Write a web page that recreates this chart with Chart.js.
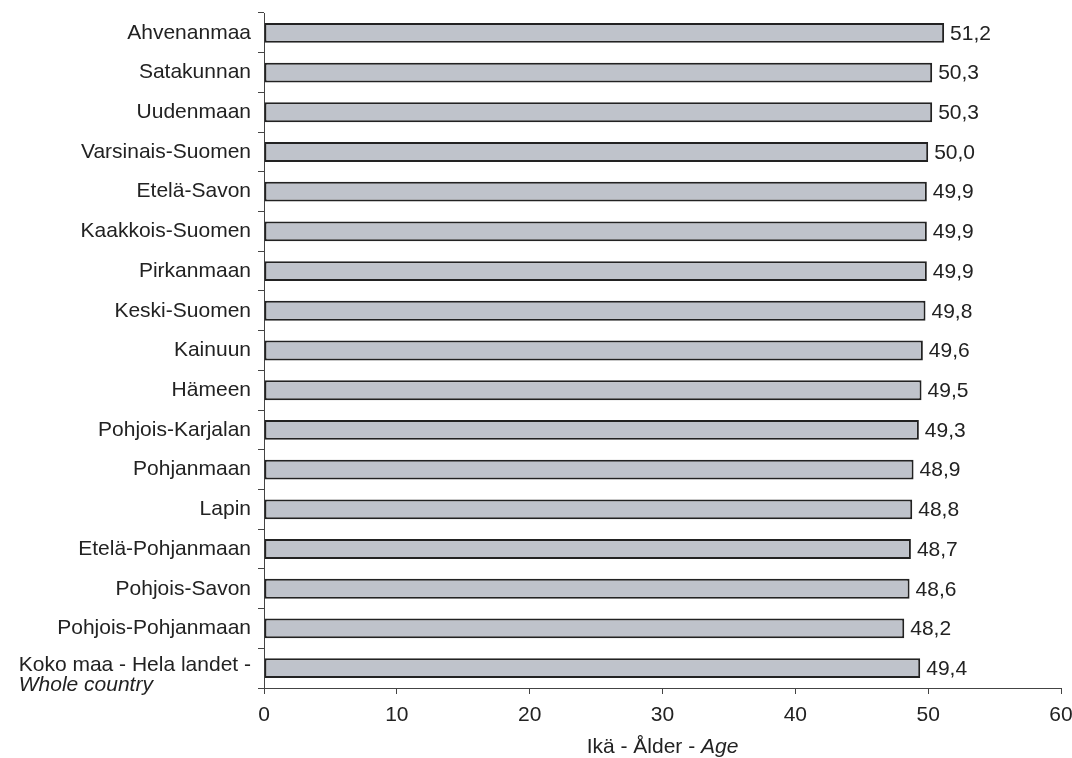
<!DOCTYPE html>
<html>
<head>
<meta charset="utf-8">
<script src="https://cdn.jsdelivr.net/npm/chart.js@4"></script>
<style>
html,body{margin:0;padding:0;background:#fff;}
#wrap{width:1072px;height:758px;}
</style>
</head>
<body>
<div id="wrap"><canvas id="c" width="1072" height="758"></canvas></div>
<script>
const categories = ["Ahvenanmaa","Satakunnan","Uudenmaan","Varsinais-Suomen","Etelä-Savon","Kaakkois-Suomen","Pirkanmaan","Keski-Suomen","Kainuun","Hämeen","Pohjois-Karjalan","Pohjanmaan","Lapin","Etelä-Pohjanmaan","Pohjois-Savon","Pohjois-Pohjanmaan","Koko maa - Hela landet -"];
const lastLabelLine2 = "Whole country";
const values = [51.2,50.3,50.3,50.0,49.9,49.9,49.9,49.8,49.6,49.5,49.3,48.9,48.8,48.7,48.6,48.2,49.4];
const xTicks = [0,10,20,30,40,50,60];
const axisTitleParts = [{text:"Ikä - Ålder - ", italic:false},{text:"Age", italic:true}];

const FONT = "'Liberation Sans', Arial, sans-serif";
const FS = 21;
const TXT = "#222";

const labelPlugin = {
  id: 'customText',
  afterDraw(chart) {
    const ctx = chart.ctx;
    const y = chart.scales.y;
    const meta = chart.getDatasetMeta(0);
    ctx.save();
    ctx.fillStyle = TXT;
    ctx.textBaseline = 'middle';
    categories.forEach((c, i) => {
      const py = y.getPixelForValue(i);
      const last = i === categories.length - 1;
      ctx.font = FS + "px " + FONT;
      ctx.textAlign = 'right';
      ctx.fillText(c, 251, py + (last ? -3 : 0));
      if (last) {
        const w = ctx.measureText(c).width;
        ctx.font = "italic " + FS + "px " + FONT;
        ctx.textAlign = 'left';
        ctx.fillText(lastLabelLine2, 251 - w, py + 17);
      }
    });
    ctx.font = FS + "px " + FONT;
    ctx.textAlign = 'left';
    meta.data.forEach((bar, i) => {
      ctx.fillText(values[i].toFixed(1).replace('.', ','), bar.x + 6, bar.y + 1);
    });
    let total = 0;
    axisTitleParts.forEach(p => { ctx.font = (p.italic ? "italic " : "") + FS + "px " + FONT; p.w = ctx.measureText(p.text).width; total += p.w; });
    let sx = (chart.chartArea.left + chart.chartArea.right) / 2 - total / 2;
    axisTitleParts.forEach(p => {
      ctx.font = (p.italic ? "italic " : "") + FS + "px " + FONT;
      ctx.fillText(p.text, sx, 747);
      sx += p.w;
    });
    ctx.restore();
  }
};

new Chart(document.getElementById('c'), {
  type: 'bar',
  data: {
    labels: categories,
    datasets: [{
      data: values,
      backgroundColor: '#bfc3cb',
      borderColor: '#222',
      borderWidth: 2,
      borderSkipped: false,
      categoryPercentage: 1,
      barPercentage: 0.5
    }]
  },
  options: {
    indexAxis: 'y',
    responsive: false,
    animation: false,
    layout: { padding: { top: 13, right: 11, left: 0, bottom: 0 } },
    plugins: { legend: { display: false }, tooltip: { enabled: false } },
    scales: {
      x: {
        min: 0, max: 60,
        afterBuildTicks: s => { s.ticks = xTicks.map(v => ({ value: v })); },
        afterFit: s => { s.height = 70; s.paddingLeft = 0; s.paddingRight = 0; },
        grid: { drawOnChartArea: false, drawTicks: true, tickLength: 6, color: '#444', lineWidth: 1 },
        border: { display: true, color: '#444', width: 1 },
        ticks: { color: TXT, font: { size: FS, family: FONT }, padding: 9, maxRotation: 0 }
      },
      y: {
        afterFit: s => { s.width = 264; s.paddingTop = 0; s.paddingBottom = 0; },
        offset: true,
        grid: { offset: true, drawOnChartArea: false, drawTicks: true, tickLength: 6, color: '#444', lineWidth: 1 },
        border: { display: true, color: '#444', width: 1 },
        ticks: { display: false }
      }
    }
  },
  plugins: [labelPlugin]
});
</script>
</body>
</html>
